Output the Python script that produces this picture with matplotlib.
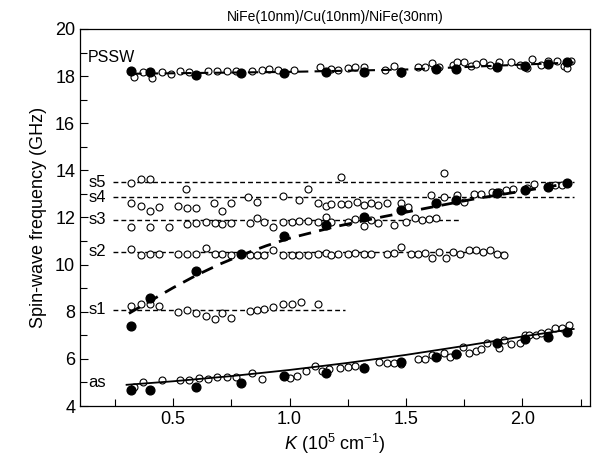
import matplotlib
matplotlib.use("Agg")
import matplotlib.pyplot as plt
from matplotlib.ticker import MultipleLocator

plt.rcParams['font.family'] = ['Liberation Sans', 'DejaVu Sans']
plt.rcParams['mathtext.fontset'] = 'custom'
plt.rcParams['mathtext.rm'] = 'Liberation Sans'
plt.rcParams['mathtext.it'] = 'Liberation Sans:italic'

# ---- data ----
# K of the filled (calculated) points, shared by the three branches
k_filled = [0.32, 0.40, 0.60, 0.79, 0.975, 1.155, 1.32, 1.48, 1.63, 1.715, 1.89, 2.01, 2.11, 2.19]
f_pssw_filled = [18.23, 18.16, 18.05, 18.12, 18.12, 18.19, 18.16, 18.19, 18.29, 18.29, 18.38, 18.43, 18.5, 18.62]
f_disp_filled = [7.4, 8.58, 9.73, 10.45, 11.22, 11.68, 12.02, 12.32, 12.62, 12.74, 13.03, 13.17, 13.3, 13.47]
f_as_filled = [4.68, 4.68, 4.79, 4.96, 5.28, 5.39, 5.6, 5.88, 6.07, 6.21, 6.66, 6.83, 6.92, 7.15]

# open circles (measured)
k_pssw_open = [0.33, 0.37, 0.41, 0.45, 0.49, 0.53, 0.57, 0.65, 0.69, 0.73, 0.77, 0.84, 0.88, 0.91, 0.95,
               1.02, 1.13, 1.18, 1.21, 1.25, 1.28, 1.32, 1.41, 1.45, 1.48, 1.55, 1.58, 1.61, 1.64, 1.70,
               1.72, 1.75, 1.78, 1.80, 1.83, 1.86, 1.90, 1.95, 1.99, 2.02, 2.04, 2.08, 2.11, 2.15, 2.18,
               2.19, 2.21]
f_pssw_open = [17.95, 18.16, 17.9, 18.16, 18.1, 18.2, 18.16, 18.2, 18.2, 18.2, 18.2, 18.2, 18.28, 18.3, 18.26,
               18.26, 18.4, 18.3, 18.26, 18.35, 18.4, 18.37, 18.26, 18.45, 18.13, 18.4, 18.4, 18.54, 18.4, 18.49,
               18.59, 18.59, 18.45, 18.52, 18.59, 18.49, 18.59, 18.59, 18.49, 18.35, 18.73, 18.49, 18.66, 18.66, 18.45,
               18.35, 18.66]

k_s5_open = [0.32, 0.36, 0.40, 0.557, 0.97, 1.08, 1.22, 1.663]
f_s5_open = [13.48, 13.63, 13.63, 13.2, 12.93, 13.21, 13.73, 13.88]

k_s4_open = [0.32, 0.36, 0.40, 0.44, 0.52, 0.56, 0.60, 0.675, 0.71, 0.75, 0.82, 0.86, 1.04, 1.12, 1.155,
             1.18, 1.22, 1.25, 1.29, 1.32, 1.35, 1.38, 1.42, 1.48, 1.51, 1.606, 1.663, 1.717, 1.75,
             1.79, 1.82, 1.87, 1.90, 1.93, 1.96, 2.02, 2.05, 2.11, 2.14, 2.17]
f_s4_open = [12.63, 12.49, 12.29, 12.46, 12.49, 12.42, 12.42, 12.6, 12.28, 12.63, 12.89, 12.65, 12.74, 12.6, 12.5,
             12.57, 12.57, 12.57, 12.67, 12.53, 12.6, 12.53, 12.6, 12.63, 12.46, 12.96, 12.89, 12.96, 12.67,
             12.99, 12.99, 13.1, 13.1, 13.15, 13.2, 13.25, 13.42, 13.34, 13.38, 13.4]

k_s3_open = [0.32, 0.40, 0.48, 0.56, 0.60, 0.64, 0.68, 0.71, 0.75, 0.83, 0.86, 0.89, 0.93, 0.97, 1.01,
             1.04, 1.08, 1.12, 1.155, 1.18, 1.25, 1.28, 1.32, 1.35, 1.38, 1.45, 1.50, 1.54, 1.57, 1.60, 1.63]
f_s3_open = [11.61, 11.61, 11.61, 11.72, 11.78, 11.82, 11.78, 11.72, 11.78, 11.78, 11.97, 11.82, 11.61, 11.82, 11.82,
             11.87, 11.87, 11.82, 12.01, 11.82, 11.82, 11.92, 11.64, 11.9, 11.78, 11.68, 11.82, 11.97, 11.9, 11.92, 11.97]

k_s2_open = [0.32, 0.36, 0.40, 0.44, 0.52, 0.56, 0.60, 0.64, 0.68, 0.71, 0.75, 0.83, 0.86, 0.89, 0.93,
             0.97, 1.01, 1.04, 1.08, 1.12, 1.155, 1.18, 1.21, 1.25, 1.28, 1.32, 1.35, 1.42, 1.45, 1.48,
             1.52, 1.55, 1.58, 1.61, 1.64, 1.67, 1.70, 1.73, 1.77, 1.80, 1.83, 1.86, 1.89, 1.92]
f_s2_open = [10.65, 10.41, 10.45, 10.45, 10.45, 10.45, 10.45, 10.69, 10.45, 10.45, 10.41, 10.41, 10.41, 10.41, 10.62,
             10.41, 10.41, 10.41, 10.41, 10.45, 10.5, 10.4, 10.45, 10.45, 10.5, 10.45, 10.45, 10.45, 10.5, 10.73,
             10.45, 10.45, 10.5, 10.3, 10.55, 10.3, 10.55, 10.45, 10.6, 10.6, 10.55, 10.6, 10.45, 10.4]

k_s1_open = [0.32, 0.36, 0.40, 0.44, 0.52, 0.56, 0.60, 0.64, 0.68, 0.71, 0.75, 0.83, 0.86, 0.89, 0.93,
             0.97, 1.01, 1.05, 1.12]
f_s1_open = [8.24, 8.31, 8.35, 8.24, 8.0, 8.07, 7.96, 7.82, 7.68, 7.96, 7.75, 8.03, 8.07, 8.1, 8.21,
             8.31, 8.31, 8.4, 8.31]

k_as_open = [0.33, 0.37, 0.45, 0.53, 0.57, 0.61, 0.65, 0.69, 0.73, 0.77, 0.84, 0.88, 1.0, 1.03, 1.07,
             1.11, 1.14, 1.17, 1.215, 1.25, 1.28, 1.32, 1.385, 1.42, 1.45, 1.48, 1.55, 1.58, 1.61, 1.635,
             1.665, 1.69, 1.72, 1.745, 1.77, 1.80, 1.82, 1.85, 1.90, 1.92, 1.95, 1.99, 2.01, 2.03, 2.06,
             2.08, 2.11, 2.14, 2.17, 2.20]
f_as_open = [4.81, 5.03, 5.1, 5.1, 5.1, 5.2, 5.13, 5.24, 5.22, 5.24, 5.39, 5.13, 5.18, 5.27, 5.5,
             5.71, 5.5, 5.58, 5.6, 5.67, 5.7, 5.67, 5.88, 5.81, 5.84, 5.78, 5.98, 5.98, 6.16, 6.09,
             6.24, 6.09, 6.21, 6.52, 6.24, 6.35, 6.41, 6.66, 6.45, 6.8, 6.62, 6.69, 7.01, 7.01, 7.01,
             7.09, 7.15, 7.3, 7.3, 7.44]

# fitted / guide curves
k_as_fit = [0.30, 0.5, 0.75, 1.0, 1.25, 1.5, 1.75, 2.0, 2.22]
f_as_fit = [4.9, 5.05, 5.27, 5.53, 5.83, 6.17, 6.55, 6.95, 7.27]
k_disp_fit = [0.31, 0.4, 0.5, 0.6, 0.7, 0.8, 0.9, 1.0, 1.2, 1.4, 1.6, 1.8, 2.0, 2.2]
f_disp_fit = [7.93, 8.45, 9.02, 9.55, 10.02, 10.43, 10.8, 11.12, 11.62, 12.03, 12.42, 12.8, 13.12, 13.45]
k_pssw_fit = [0.32, 1.0, 1.5, 2.22]
f_pssw_fit = [18.1, 18.18, 18.28, 18.58]

# standing-wave levels
s_names = ['s1', 's2', 's3', 's4', 's5']
s_levels = [8.08, 10.55, 11.9, 12.86, 13.5]
s_end = [1.24, 1.94, 1.73, 2.22, 2.22]

fig = plt.figure(figsize=(5.95, 4.69), dpi=100)
ax = fig.add_axes([0.1345, 0.1343, 0.857, 0.8039])

# horizontal guide lines
for lev, kend in zip(s_levels, s_end):
    ax.plot([0.24, kend], [lev, lev], color='black', lw=1.0, dashes=(3.5, 2.2))

open_style = dict(ls='none', marker='o', ms=5, mfc='white', mec='black', mew=0.8)
for kk, ff in [(k_pssw_open, f_pssw_open), (k_s5_open, f_s5_open), (k_s4_open, f_s4_open),
               (k_s3_open, f_s3_open), (k_s2_open, f_s2_open), (k_s1_open, f_s1_open),
               (k_as_open, f_as_open)]:
    ax.plot(kk, ff, **open_style)

ax.plot(k_as_fit, f_as_fit, color='black', lw=1.3)
ax.plot(k_disp_fit, f_disp_fit, color='black', lw=2.0, dashes=(4.5, 3))
ax.plot(k_pssw_fit, f_pssw_fit, color='black', lw=1.5, dashes=(5, 3))

filled_style = dict(ls='none', marker='o', ms=6.3, mfc='black', mec='black')
for ff in [f_pssw_filled, f_disp_filled, f_as_filled]:
    ax.plot(k_filled, ff, **filled_style)

# labels on the left
for name, lev in zip(s_names, s_levels):
    ax.text(0.135, lev, name, fontsize=12, ha='left', va='center')
ax.text(0.135, 4.98, 'as', fontsize=12, ha='left', va='center')
ax.text(0.135, 18.8, 'PSSW', fontsize=11.5, ha='left', va='center')

ax.set_xlim(0.10, 2.29)
ax.set_ylim(4, 20)
ax.xaxis.set_major_locator(MultipleLocator(0.5))
ax.xaxis.set_minor_locator(MultipleLocator(0.25))
ax.yaxis.set_major_locator(MultipleLocator(2))
ax.yaxis.set_minor_locator(MultipleLocator(1))
ax.set_xticks([0.5, 1.0, 1.5, 2.0])
ax.set_xticklabels(['0.5', '1.0', '1.5', '2.0'])
ax.tick_params(which='both', direction='in', top=False, right=False, labelsize=13, width=0.8)
ax.tick_params(which='major', length=6)
ax.tick_params(which='minor', length=5)
for sp in ax.spines.values():
    sp.set_linewidth(0.9)

ax.set_xlabel(r'$K$ (10$^5$ cm$^{-1}$)', fontsize=13, labelpad=3)
ax.set_ylabel('Spin-wave frequency (GHz)', fontsize=13, labelpad=6)
ax.set_title('NiFe(10nm)/Cu(10nm)/NiFe(30nm)', fontsize=10, pad=6)

fig.savefig('out.png', dpi=100)
